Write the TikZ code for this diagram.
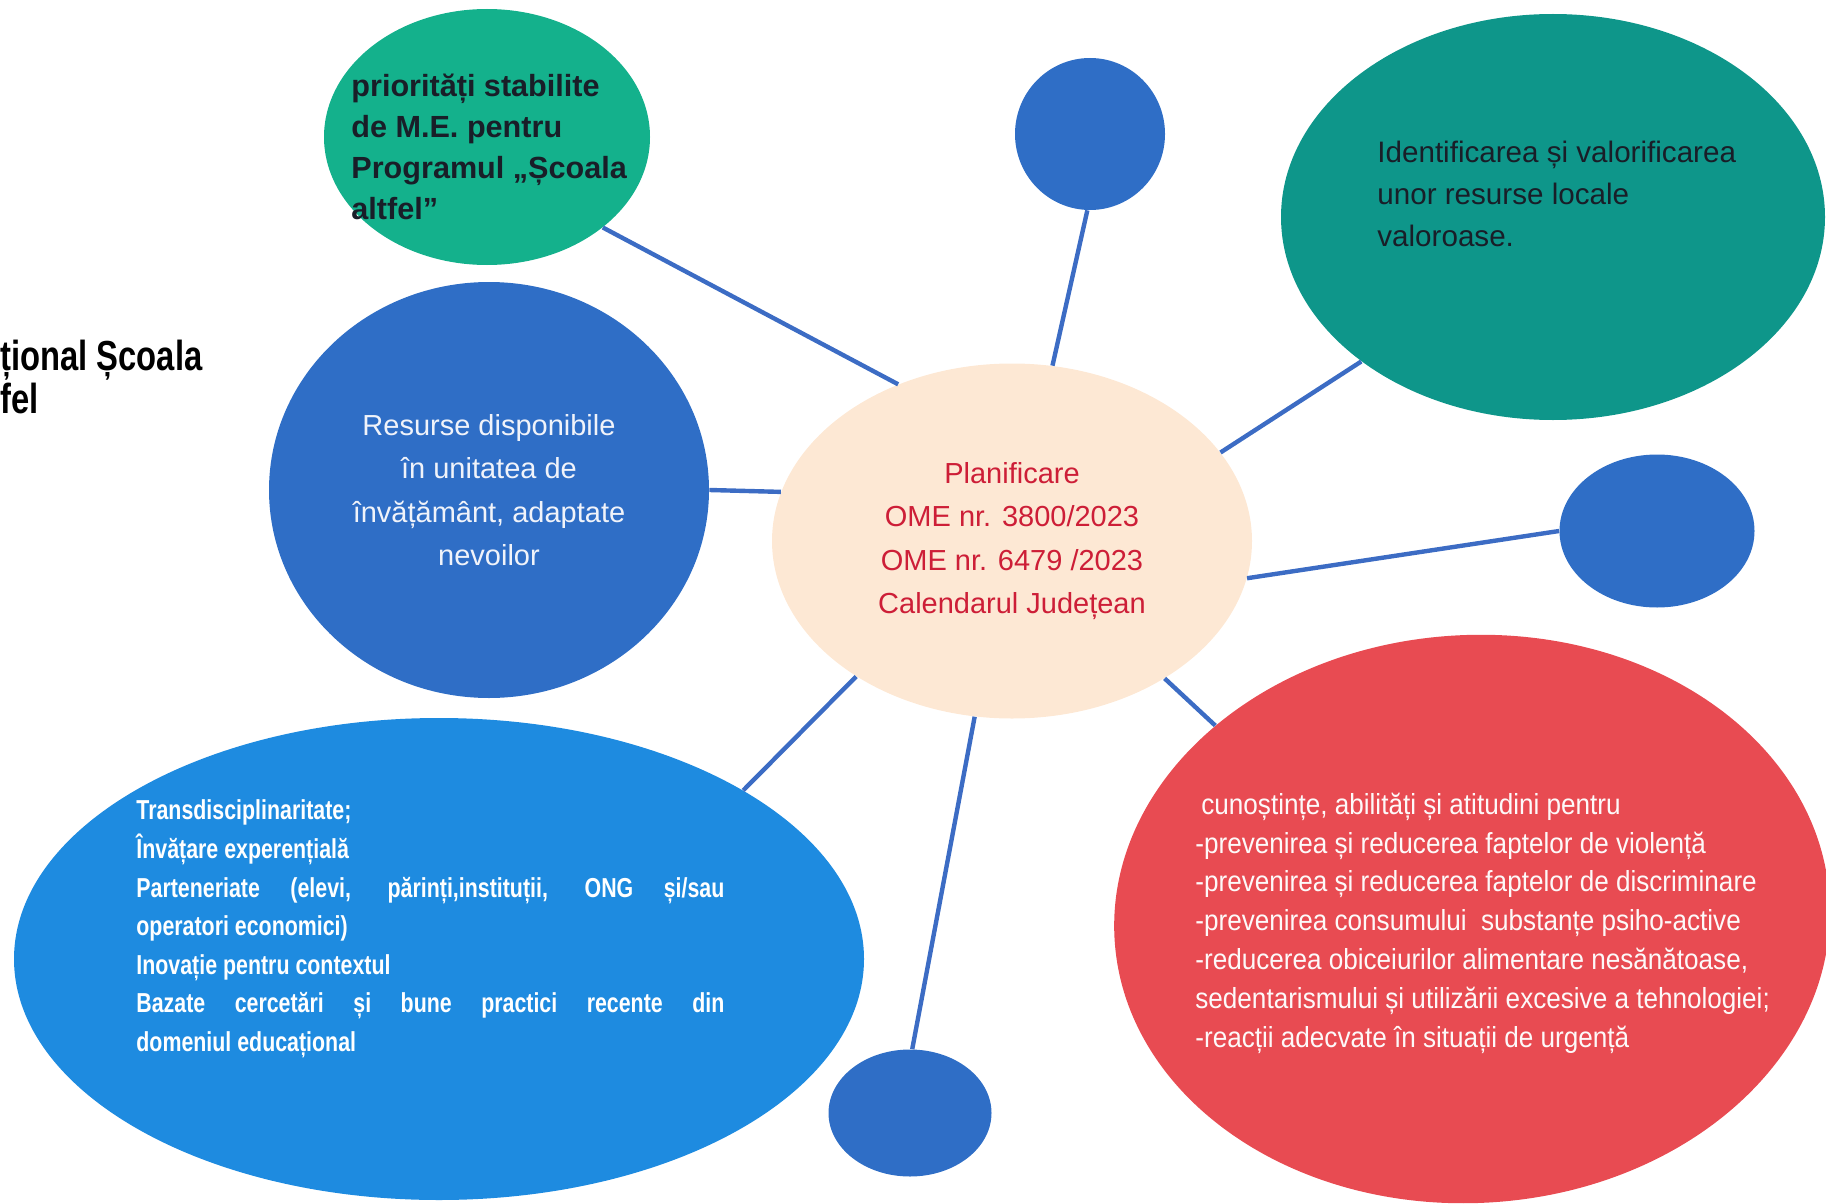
\documentclass[tikz,border=0pt]{standalone}
\usepackage{fontspec}
\setmainfont{Liberation Sans}
\newfontfamily\narrowfont[FakeStretch=0.9]{Liberation Sans}
\newfontfamily\narrowbold[FakeStretch=0.78]{Liberation Sans}
\usepackage{tikz}
\usetikzlibrary{shapes.geometric}
\definecolor{peachc}{RGB}{253,232,212}
\definecolor{planc}{RGB}{205,30,55}
\definecolor{tealLc}{RGB}{20,177,140}
\definecolor{tealDc}{RGB}{14,150,138}
\definecolor{blueDc}{RGB}{47,110,198}
\definecolor{blueLc}{RGB}{30,139,224}
\definecolor{redc}{RGB}{232,75,82}
\definecolor{spokec}{RGB}{60,108,196}
\definecolor{inkc}{RGB}{25,30,40}
\definecolor{paperc}{RGB}{240,243,250}
\tikzset{
  blob/.style  = {ellipse, draw=none, inner sep=0pt},
  spoke/.style = {draw=spokec, line width=2.2pt},
  txt/.style   = {inner sep=0pt, align=left},
}

\begin{document}
\begin{tikzpicture}[x=0.5pt, y=-0.5pt]
\useasboundingbox (0,0) rectangle (1826,1204);

% ---- clipped heading at the left edge ----
\node[txt, anchor=base west, text=black,
      font=\narrowbold\bfseries\fontsize{21}{16}\selectfont] (head) at (0,413)
  {țional Școala\\fel};

% ---- centre ----
\node[blob, fill=peachc, minimum width=240pt, minimum height=177.5pt, align=center,
      text=planc, font=\fontsize{14.5}{21.75}\selectfont] (plan) at (1012,541)
  {Planificare\\OME nr. 3800/2023\\OME nr. 6479 /2023\\Calendarul Județean};

% ---- satellites ----
\node[blob, fill=tealLc, minimum width=163pt, minimum height=128pt] (prio) at (487,137) {};
\node[txt, anchor=west, text=inkc, font=\bfseries\fontsize{15.3}{20.5}\selectfont] (prioT) at (351,147)
  {priorități stabilite\\de M.E. pentru\\Programul „Școala\\altfel”};

\node[blob, fill=blueDc, minimum width=75pt, minimum height=76pt] (dotN) at (1090,134) {};

\node[blob, fill=tealDc, minimum width=272pt, minimum height=203pt] (resloc) at (1553,217) {};
\node[txt, anchor=west, text=inkc, font=\fontsize{14.8}{21}\selectfont] (reslocT) at (1377,194)
  {Identificarea și valorificarea\\unor resurse locale\\valoroase.};

\node[blob, fill=blueDc, minimum width=220pt, minimum height=208pt, align=center,
      text=paperc, font=\fontsize{14.5}{21.75}\selectfont] (resurse) at (489,490)
  {Resurse disponibile\\în unitatea de\\învățământ, adaptate\\nevoilor};

\node[blob, fill=blueDc, minimum width=97.5pt, minimum height=76.5pt] (dotE) at (1657,531) {};

\node[blob, fill=redc, minimum width=358pt, minimum height=284pt, rotate=3] (comp) at (1472,919) {};
\node[txt, anchor=west, text=paperc!60!redc!8, font=\narrowfont\fontsize{14.5}{19.4}\selectfont] (compT) at (1195,923)
  {\hspace*{3pt}cunoștințe, abilități și atitudini pentru\\
   -prevenirea și reducerea faptelor de violență\\
   -prevenirea și reducerea faptelor de discriminare\\
   -prevenirea consumului\ \ substanțe psiho-active\\
   -reducerea obiceiurilor alimentare nesănătoase,\\
   sedentarismului și utilizării excesive a tehnologiei;\\
   -reacții adecvate în situații de urgență};

\node[blob, fill=blueLc, minimum width=425pt, minimum height=241pt] (trans) at (439,959) {};
\node[inner sep=0pt, anchor=west, text width=294pt, align=justify, text=white,
      font=\narrowbold\bfseries\fontsize{13.7}{19.3}\selectfont] (transT) at (136,929)
  {Transdisciplinaritate;\par
   Învățare experențială\par
   Parteneriate (elevi, părinți,instituții, ONG și/sau\linebreak
   operatori economici)\par
   Inovație pentru contextul\par
   Bazate cercetări și bune practici recente din\linebreak
   domeniul educațional\par};

\node[blob, fill=blueDc, minimum width=81.5pt, minimum height=63.5pt] (dotS) at (910,1113) {};

% ---- spokes ----
\draw[spoke] (prio.-38)    -- (plan.126);
\draw[spoke] (dotN.-92)    -- (plan.77);
\draw[spoke] (resloc.217)  -- (plan.23);
\draw[spoke] (resurse.0)   -- (plan.168);
\draw[spoke] (dotE.180)    -- (plan.-9.5);
\draw[spoke] (comp.140)    -- (plan.-42.5);
\draw[spoke] (trans.29)    -- (plan.221);
\draw[spoke] (dotS.88)     -- (plan.258);

\end{tikzpicture}
\end{document}
